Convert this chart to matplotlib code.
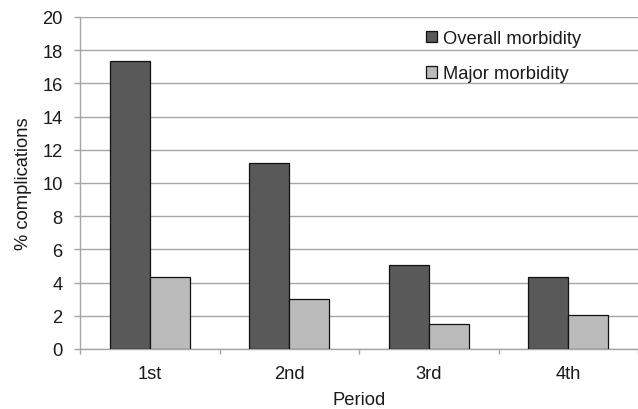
import matplotlib
matplotlib.use("Agg")
import matplotlib.pyplot as plt
import numpy as np
from matplotlib.ticker import FixedLocator

categories = ["1st", "2nd", "3rd", "4th"]
overall = [17.33, 11.19, 5.06, 4.32]
major = [4.32, 3.01, 1.50, 2.03]
series_names = ["Overall morbidity", "Major morbidity"]
yticks = list(range(0, 21, 2))

plt.rcParams['font.family'] = ['Liberation Sans', 'DejaVu Sans']
fig = plt.figure(figsize=(6.38, 4.10), dpi=100)
ax = fig.add_axes([80/638, 1 - 350/410, 558/638, 332/410])

x = np.arange(len(categories))
w = 40/139.5
grid_c = "#a6a6a6"
fs = 13.2
txt_c = "#1a1a1a"
ax.bar(x - w/2, overall, w, color="#595959", edgecolor="#111111", linewidth=0.9,
       label=series_names[0], zorder=3)
ax.bar(x + w/2, major, w, color="#bbbbbb", edgecolor="#111111", linewidth=0.9,
       label=series_names[1], zorder=3)

ax.set_xlim(-0.5, 3.5)
ax.set_ylim(0, 20)
ax.set_yticks(yticks)
ax.set_xticks(x)
ax.set_xticklabels(categories)
ax.xaxis.set_minor_locator(FixedLocator(np.arange(-0.5, 3.6, 1.0)))
ax.tick_params(axis='x', which='major', length=0, pad=11.5, labelsize=fs, colors=txt_c)
ax.tick_params(axis='x', which='minor', length=3.5, color=grid_c, width=1)
ax.tick_params(axis='y', length=4.5, color=grid_c, width=1, labelsize=fs, pad=8, labelcolor=txt_c)
ax.yaxis.grid(True, color=grid_c, linewidth=1)
ax.set_axisbelow(True)
for s in ["top", "right"]:
    ax.spines[s].set_visible(False)
for s in ["left", "bottom"]:
    ax.spines[s].set_color(grid_c)
    ax.spines[s].set_linewidth(1)

ax.set_ylabel("% complications", fontsize=fs, color=txt_c, labelpad=7.5)
ax.set_xlabel("Period", fontsize=fs, color=txt_c, labelpad=6.5)

leg = ax.legend(loc="upper left", bbox_to_anchor=((426-80)/558, (350-31)/332),
                frameon=False, handlelength=0.62, handleheight=0.62, handletextpad=0.3,
                labelspacing=1.0, fontsize=fs, borderaxespad=0, borderpad=0)
for t in leg.get_texts():
    t.set_color(txt_c)

fig.savefig("out.png", dpi=100)
